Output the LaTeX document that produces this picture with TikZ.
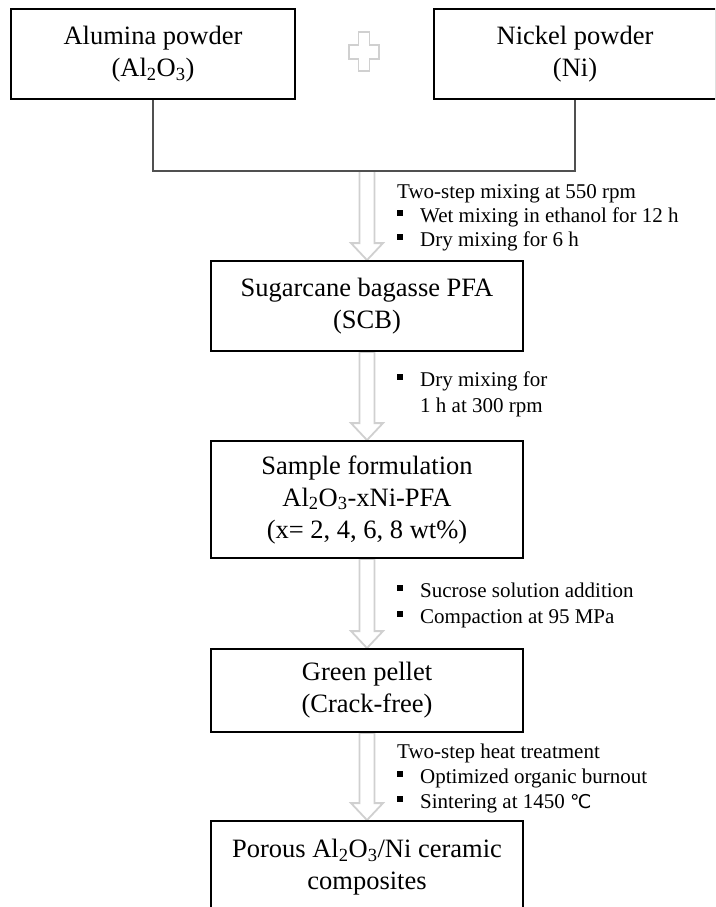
\documentclass[tikz,border=0pt]{standalone}
\usepackage{fontspec}
\setmainfont{Liberation Serif}
\newfontfamily\dejavu{DejaVu Sans}
\usetikzlibrary{calc,backgrounds}
\definecolor{arrgray}{HTML}{D0D0D0}
\definecolor{linegray}{HTML}{505050}
\newcommand\bul{\makebox[23pt][l]{\rule[6.5pt]{5.5pt}{5.5pt}}}
\newcommand\harr[2]{%
  \path[harrow] let \p1=(#1), \p2=(#2) in
    (\x1-7.5pt,\y1) -- (\x1-7.5pt,\y2+17pt) -- (\x1-16pt,\y2+17pt) -- (\x1,\y2)
    -- (\x1+16pt,\y2+17pt) -- (\x1+7.5pt,\y2+17pt) -- (\x1+7.5pt,\y1) -- cycle;}
\begin{document}
\begin{tikzpicture}[x=1pt,y=-1pt,
  box/.style={draw=black, line width=1.8pt, fill=white, align=center, inner sep=0pt,
    font=\fontsize{26.5}{32}\selectfont},
  note/.style={anchor=base west, inner sep=0pt, font=\fontsize{21}{25}\selectfont},
  link/.style={draw=linegray, line width=1.2pt},
  harrow/.style={draw=arrgray, line width=1.8pt, fill=white, line join=miter}]
\useasboundingbox (0,0) rectangle (715,907);
\clip (0,0) rectangle (715,907);
% boxes
\node[box, minimum width=284pt, minimum height=90pt] (alu) at (153,54)
  {Alumina powder\\(Al\textsubscript{2}O\textsubscript{3})};
\node[box, minimum width=282pt, minimum height=90pt] (nic) at (575,54)
  {Nickel powder\\(Ni)};
\node[box, minimum width=312pt, minimum height=90pt] (scb) at (367,306)
  {Sugarcane bagasse PFA\\(SCB)};
\node[box, minimum width=312pt, minimum height=117pt] (smp) at (367,499.5)
  {Sample formulation\\Al\textsubscript{2}O\textsubscript{3}-xNi-PFA\\(x= 2, 4, 6, 8 wt\%)};
\node[box, minimum width=312pt, minimum height=83pt] (grn) at (367,690.5)
  {Green pellet\\(Crack-free)};
\node[box, minimum width=312pt, minimum height=92pt] (por) at (367,867)
  {Porous Al\textsubscript{2}O\textsubscript{3}/Ni ceramic\\composites};
% junction
\coordinate (j) at (367,171);
\draw[link] (alu.south) -- (alu.south |- j) -- (nic.south |- j) -- (nic.south);
% hollow arrows and plus
\begin{scope}[on background layer]
\harr{j}{scb.north}
\harr{scb.south}{smp.north}
\harr{smp.south}{grn.north}
\harr{grn.south}{por.north}
\end{scope}
\draw[harrow, line width=1.6pt] (358.5,32) -- (369.5,32) -- (369.5,45) -- (379,45) -- (379,59)
  -- (369.5,59) -- (369.5,71) -- (358.5,71) -- (358.5,59) -- (349,59) -- (349,45)
  -- (358.5,45) -- cycle;
% annotations
\node[note] (a1h) at (397,198) {Two-step mixing at 550 rpm};
\node[note] (a1a) at (397,222) {\bul Wet mixing in ethanol for 12 h};
\node[note] (a1b) at (397,246) {\bul Dry mixing for 6 h};
\node[note] (a2a) at (397,386) {\bul Dry mixing for};
\node[note] (a2b) at (420,412) {1 h at 300 rpm};
\node[note] (a3a) at (397,597) {\bul Sucrose solution addition};
\node[note] (a3b) at (397,623) {\bul Compaction at 95 MPa};
\node[note] (a4h) at (397,758) {Two-step heat treatment};
\node[note] (a4a) at (397,783) {\bul Optimized organic burnout};
\node[note] (a4b) at (397,808) {\bul Sintering at 1450 {\dejavu\fontsize{19}{25}\selectfont ℃}};
\end{tikzpicture}
\end{document}
